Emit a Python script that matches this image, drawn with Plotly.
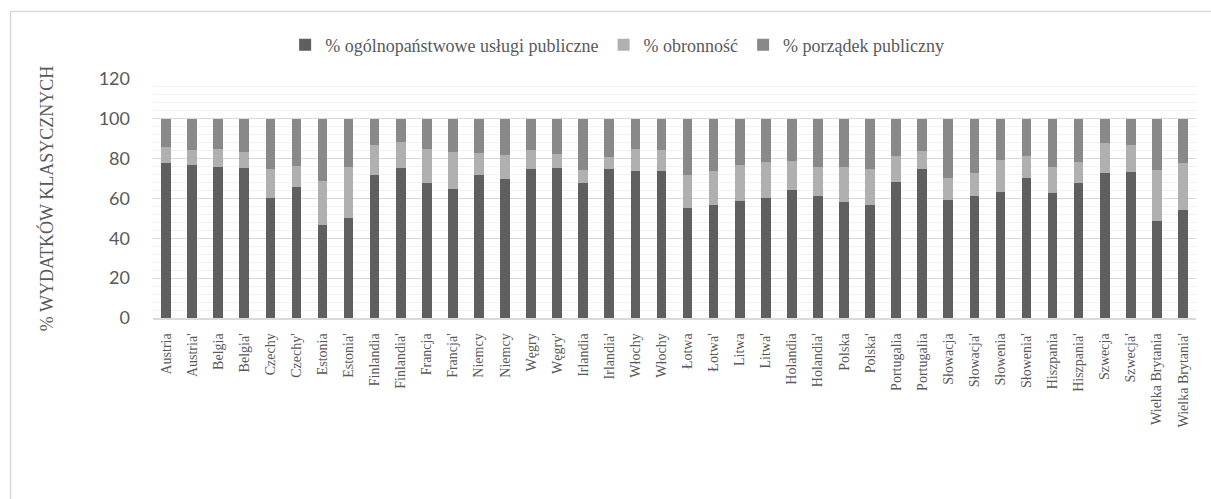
import plotly.graph_objects as go

categories = ["Austria", "Austria'", "Belgia", "Belgia'", "Czechy", "Czechy'", "Estonia", "Estonia'",
              "Finlandia", "Finlandia'", "Francja", "Francja'", "Niemcy", "Niemcy", "Węgry", "Węgry'",
              "Irlandia", "Irlandia'", "Włochy", "Włochy", "Łotwa", "Łotwa'", "Litwa", "Litwa'",
              "Holandia", "Holandia'", "Polska", "Polska'", "Portugalia", "Portugalia", "Słowacja", "Słowacja'",
              "Słowenia", "Słowenia'", "Hiszpania", "Hiszpania'", "Szwecja", "Szwecja'",
              "Wielka Brytania", "Wielka Brytania'"]

# cumulative tops
uslugi = [78.0, 76.9, 75.9, 75.4, 60.5, 65.7, 46.8, 50.3, 71.9, 75.4, 67.9, 65.0, 71.9, 69.9, 74.9, 75.4,
          67.9, 75.0, 74.0, 73.9, 55.0, 56.8, 58.8, 60.2, 64.2, 61.2, 58.0, 56.7, 68.4, 74.9, 59.5, 61.5,
          63.3, 70.5, 63.0, 67.9, 72.9, 73.4, 48.6, 54.3]
uslugi_plus_obronnosc = [85.9, 84.4, 84.9, 83.4, 74.9, 76.4, 69.0, 75.7, 86.9, 88.4, 85.1, 83.4, 82.9, 81.9, 84.4, 82.2,
                         74.4, 80.7, 84.9, 84.4, 71.7, 73.9, 76.9, 78.4, 78.9, 75.9, 75.9, 74.9, 81.4, 83.9, 70.4, 72.7,
                         79.4, 81.4, 75.9, 78.4, 87.7, 86.7, 74.4, 77.9]

obronnosc = [round(b - a, 1) for a, b in zip(uslugi, uslugi_plus_obronnosc)]
porzadek = [round(100 - b, 1) for b in uslugi_plus_obronnosc]

series_names = ["% ogólnopaństwowe usługi publiczne", "% obronność", "% porządek publiczny"]
series_colors = ["#5f5f5f", "#b0b0b0", "#898989"]
y_ticks = [0, 20, 40, 60, 80, 100, 120]

x = list(range(len(categories)))

fig = go.Figure()
for name, vals, col in zip(series_names, [uslugi, obronnosc, porzadek], series_colors):
    fig.add_trace(go.Bar(x=x, y=vals, name=name, marker=dict(color=col, line=dict(width=0))))

serif = "Liberation Serif"
fig.update_layout(
    barmode="stack",
    bargap=0.63,
    width=1211, height=499,
    margin=dict(l=153, r=15, t=79, b=181, pad=0),
    paper_bgcolor="white", plot_bgcolor="white",
    showlegend=True,
    font=dict(family=serif, color="#595959"),
    legend=dict(orientation="h", x=0.445, xanchor="center", y=1.142, yanchor="middle",
                font=dict(family=serif, size=18, color="#595959"),
                itemwidth=30, traceorder="normal", bgcolor="rgba(0,0,0,0)"),
    xaxis=dict(tickmode="array", tickvals=x, ticktext=categories, tickangle=-90,
               tickfont=dict(family=serif, size=14, color="#595959"),
               range=[-0.5, len(categories) - 0.5], showgrid=False, zeroline=False,
               showline=True, linecolor="#d9d9d9", linewidth=1.5, ticks="", ticklabelstandoff=8),
    yaxis=dict(range=[0, 120], tickmode="array", tickvals=y_ticks,
               tickfont=dict(family="Lato", size=18, color="#595959"),
               showgrid=True, gridcolor="#d9d9d9", gridwidth=1.3, zeroline=False,
               showline=False, ticks="", ticklabelstandoff=22,
               minor=dict(dtick=4, showgrid=True, gridcolor="#f0f0f0", gridwidth=1),
               title=dict(text="% WYDATKÓW KLASYCZNYCH", font=dict(family=serif, size=18, color="#595959"),
                          standoff=40)),
    shapes=[
        dict(type="rect", xref="paper", yref="paper", x0=-0.1366, x1=1.03, y0=-0.8, y1=1.2824,
             line=dict(color="#d9d9d9", width=1.5), fillcolor="rgba(0,0,0,0)", layer="below"),
    ],
)

fig.write_html("out.html")
